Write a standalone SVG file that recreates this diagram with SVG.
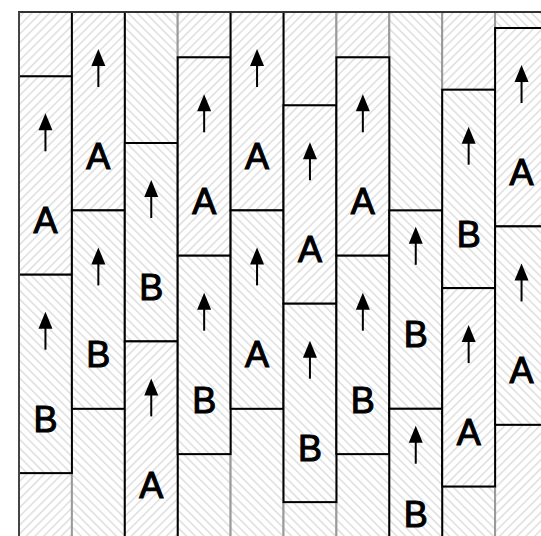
<svg xmlns="http://www.w3.org/2000/svg" xmlns:xlink="http://www.w3.org/1999/xlink" width="541" height="536" viewBox="0 0 541 536">
<defs>
<pattern id="hr" patternUnits="userSpaceOnUse" width="6.2" height="6.2" patternTransform="rotate(45)"><rect width="6.2" height="6.2" fill="#fff"/><rect width="1.5" height="6.2" fill="#dedede"/></pattern>
<pattern id="hl" patternUnits="userSpaceOnUse" width="6.2" height="6.2" patternTransform="rotate(-45)"><rect width="6.2" height="6.2" fill="#fff"/><rect width="1.5" height="6.2" fill="#dedede"/></pattern>
<g id="arr"><path d="M0,0 L7,17 L-7,17 Z" fill="#000"/><line x1="0" y1="15" x2="0" y2="38" stroke="#000" stroke-width="2"/></g>
</defs>
<style>
.g{stroke:#9a9a9a;stroke-width:2}
.t{stroke:#000;stroke-width:2}
.r{fill:url(#hr)}
.l{fill:url(#hl)}
text{font-family:"Liberation Sans",Arial,sans-serif;font-size:36px;text-anchor:middle;fill:#000;stroke:#000;stroke-width:1.1}
</style>
<rect width="541" height="536" fill="#fff"/>
<g id="background">
<rect class="g r" x="19" y="12" width="52.9" height="64.3"/>
<rect class="g r" x="19" y="473.1" width="52.9" height="80"/>
<rect class="g l" x="71.9" y="408.8" width="52.9" height="140"/>
<rect class="g l" x="124.8" y="12" width="52.9" height="131"/>
<rect class="g r" x="177.7" y="12" width="52.9" height="45.3"/>
<rect class="g l" x="177.7" y="454.1" width="52.9" height="100"/>
<rect class="g l" x="230.6" y="408.8" width="52.9" height="140"/>
<rect class="g r" x="283.5" y="12" width="52.9" height="93.3"/>
<rect class="g l" x="283.5" y="502.1" width="52.9" height="60"/>
<rect class="g r" x="336.4" y="12" width="52.9" height="45.3"/>
<rect class="g l" x="336.4" y="454.1" width="52.9" height="100"/>
<rect class="g l" x="389.3" y="12" width="52.9" height="198.4"/>
<rect class="g r" x="442.2" y="12" width="52.9" height="77.7"/>
<rect class="g l" x="442.2" y="486.5" width="52.9" height="70"/>
<rect class="g l" x="495.1" y="12" width="52.9" height="16"/>
<rect class="g r" x="495.1" y="424.8" width="52.9" height="130"/>
</g>
<g id="c1a"><rect class="t r" x="19" y="76.3" width="52.9" height="198.4"/><use xlink:href="#arr" x="45.45" y="113.3"/><text x="45.45" y="233.3">A</text></g>
<g id="c1b"><rect class="t l" x="19" y="274.7" width="52.9" height="198.4"/><use xlink:href="#arr" x="45.45" y="311.7"/><text x="45.45" y="431.7">B</text></g>
<g id="c2a"><rect class="t r" x="71.9" y="12" width="52.9" height="198.4"/><use xlink:href="#arr" x="98.35" y="49"/><text x="98.35" y="169">A</text></g>
<g id="c2b"><rect class="t l" x="71.9" y="210.4" width="52.9" height="198.4"/><use xlink:href="#arr" x="98.35" y="247.4"/><text x="98.35" y="367.4">B</text></g>
<g id="c3b"><rect class="t l" x="124.8" y="143" width="52.9" height="198.4"/><use xlink:href="#arr" x="151.25" y="180"/><text x="151.25" y="300">B</text></g>
<g id="c3a"><rect class="t r" x="124.8" y="341.4" width="52.9" height="198.4"/><use xlink:href="#arr" x="151.25" y="378.4"/><text x="151.25" y="498.4">A</text></g>
<g id="c4a"><rect class="t r" x="177.7" y="57.3" width="52.9" height="198.4"/><use xlink:href="#arr" x="204.15" y="94.3"/><text x="204.15" y="214.3">A</text></g>
<g id="c4b"><rect class="t l" x="177.7" y="255.7" width="52.9" height="198.4"/><use xlink:href="#arr" x="204.15" y="292.7"/><text x="204.15" y="412.7">B</text></g>
<g id="c5a"><rect class="t r" x="230.6" y="12" width="52.9" height="198.4"/><use xlink:href="#arr" x="257.05" y="49"/><text x="257.05" y="169">A</text></g>
<g id="c5a2"><rect class="t l" x="230.6" y="210.4" width="52.9" height="198.4"/><use xlink:href="#arr" x="257.05" y="247.4"/><text x="257.05" y="367.4">A</text></g>
<g id="c6a"><rect class="t r" x="283.5" y="105.3" width="52.9" height="198.4"/><use xlink:href="#arr" x="309.95" y="142.3"/><text x="309.95" y="262.3">A</text></g>
<g id="c6b"><rect class="t l" x="283.5" y="303.7" width="52.9" height="198.4"/><use xlink:href="#arr" x="309.95" y="340.7"/><text x="309.95" y="460.7">B</text></g>
<g id="c7a"><rect class="t r" x="336.4" y="57.3" width="52.9" height="198.4"/><use xlink:href="#arr" x="362.85" y="94.3"/><text x="362.85" y="214.3">A</text></g>
<g id="c7b"><rect class="t l" x="336.4" y="255.7" width="52.9" height="198.4"/><use xlink:href="#arr" x="362.85" y="292.7"/><text x="362.85" y="412.7">B</text></g>
<g id="c8b"><rect class="t l" x="389.3" y="210.4" width="52.9" height="198.4"/><use xlink:href="#arr" x="415.75" y="226.8"/><text x="415.75" y="346.8">B</text></g>
<g id="c8b2"><rect class="t l" x="389.3" y="408.8" width="52.9" height="198.4"/><use xlink:href="#arr" x="415.75" y="425.7"/><text x="415.75" y="526.7">B</text></g>
<g id="c9b"><rect class="t l" x="442.2" y="89.7" width="52.9" height="198.4"/><use xlink:href="#arr" x="468.65" y="126.7"/><text x="468.65" y="246.7">B</text></g>
<g id="c9a"><rect class="t r" x="442.2" y="288.1" width="52.9" height="198.4"/><use xlink:href="#arr" x="468.65" y="325.1"/><text x="468.65" y="445.1">A</text></g>
<g id="c10a"><rect class="t r" x="495.1" y="28" width="52.9" height="198.4"/><use xlink:href="#arr" x="521.55" y="65"/><text x="521.55" y="185">A</text></g>
<g id="c10a2"><rect class="t l" x="495.1" y="226.4" width="52.9" height="198.4"/><use xlink:href="#arr" x="521.55" y="263.4"/><text x="521.55" y="383.4">A</text></g>
<g id="frame"><line x1="18" y1="12" x2="541" y2="12" stroke="#333" stroke-width="2"/><line x1="19" y1="12" x2="19" y2="536" stroke="#444" stroke-width="2"/></g>
</svg>
